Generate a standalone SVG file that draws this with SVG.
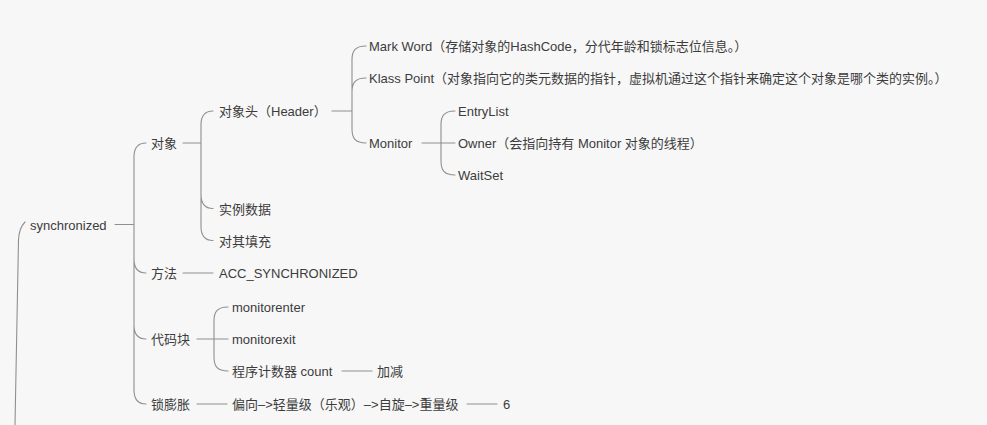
<svg xmlns="http://www.w3.org/2000/svg" width="987" height="425" viewBox="0 0 987 425">
<style>
text{font-family:"Liberation Sans","Noto Sans CJK SC",sans-serif;font-size:13px;fill:#3c3c3c}
.c{fill:none;stroke:#8f8f8f;stroke-width:1.1;stroke-linecap:round}
</style>
<rect width="987" height="425" fill="#f7f7f7"/>
<g id="connectors">
<path class="c" d="M25 222 Q19 228 18.5 240 L15 425"/>
<path class="c" d="M115 224.5 H134 M134 224.5 V157 C134 148 137 143 146 143 M134 224.5 V259 C134 268 137 273 146 273 M134 224.5 V325 C134 334 137 339 146 339 M134 224.5 V390 C134 399 137 404 146 404"/>
<path class="c" d="M183 143 H201 M201 143 V125 C201 116 204 111 213 111 M201 143 V194.5 C201 203.5 204 208.5 213 208.5 M201 143 V226.5 C201 235.5 204 240.5 213 240.5"/>
<path class="c" d="M332 111 H352 M352 111 V60 C352 51 355 46 366 46 M352 111 V92 C352 83 355 78 366 78 M352 111 V129 C352 138 355 143 366 143"/>
<path class="c" d="M422 143 H441 M441 143 V125 C441 116 444 111 455 111 M441 143 H455 M441 143 V161 C441 170 444 175 455 175"/>
<path class="c" d="M197 339 H214 M214 339 V321 C214 312 217 307 228 307 M214 339 H228 M214 339 V357 C214 366 217 371 228 371"/>
<path class="c" d="M183 273 H213 M197 404 H227 M342 371 H372 M467 404 H497"/>
</g>
<g id="n-synchronized"><text x="30" y="229.5">synchronized</text></g>
<g id="n-obj"><text x="151" y="148">对象</text></g>
<g id="n-header"><text x="219" y="116">对象头（Header）</text></g>
<g id="n-markword"><text x="369" y="51">Mark Word（存储对象的HashCode，分代年龄和锁标志位信息。）</text></g>
<g id="n-klass"><text x="369" y="83">Klass Point（对象指向它的类元数据的指针，虚拟机通过这个指针来确定这个对象是哪个类的实例。）</text></g>
<g id="n-monitor"><text x="369" y="148">Monitor</text></g>
<g id="n-entrylist"><text x="458" y="116">EntryList</text></g>
<g id="n-owner"><text x="458" y="148">Owner（会指向持有 Monitor 对象的线程）</text></g>
<g id="n-waitset"><text x="458" y="180">WaitSet</text></g>
<g id="n-instdata"><text x="219" y="213.5">实例数据</text></g>
<g id="n-padding"><text x="219" y="245.5">对其填充</text></g>
<g id="n-method"><text x="151" y="278">方法</text></g>
<g id="n-acc"><text x="219" y="278">ACC_SYNCHRONIZED</text></g>
<g id="n-block"><text x="151" y="344">代码块</text></g>
<g id="n-menter"><text x="232" y="312">monitorenter</text></g>
<g id="n-mexit"><text x="232" y="344">monitorexit</text></g>
<g id="n-count"><text x="232" y="376">程序计数器 count</text></g>
<g id="n-addsub"><text x="377" y="376">加减</text></g>
<g id="n-inflate"><text x="151" y="409">锁膨胀</text></g>
<g id="n-path"><text x="232" y="409">偏向–&gt;轻量级（乐观）–&gt;自旋–&gt;重量级</text></g>
<g id="n-six"><text x="503" y="409">6</text></g>
</svg>
